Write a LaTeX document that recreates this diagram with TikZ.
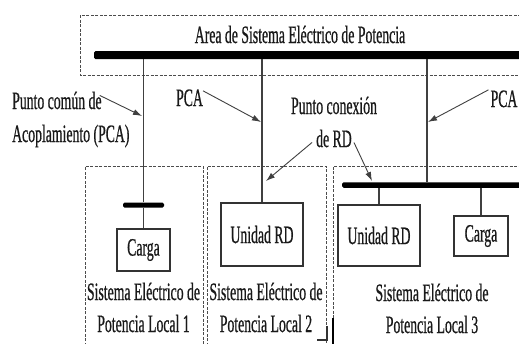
\documentclass[tikz,border=0pt]{standalone}
\usepackage{fontspec}
\setmainfont{Liberation Serif}[FakeStretch=0.55,FakeBold=0.6]
\usetikzlibrary{arrows.meta}
\begin{document}
\begin{tikzpicture}[x=1pt,y=-1pt,
  lbl/.style={inner sep=0pt,anchor=base,font=\fontsize{25}{33}\selectfont,text=black!90},
  busbar/.style={fill=black,draw=none,inner sep=0pt,rounded corners=1.5pt},
  unitbox/.style={draw=black!80,line width=1.1pt,inner sep=0pt,font=\fontsize{25}{33}\selectfont,text=black!90},
  feeder/.style={draw=black!75,line width=1.1pt},
  zone/.style={draw=black!70,line width=1pt,dash pattern=on 3pt off 1.5pt},
  pointer/.style={draw=black!75,line width=0.9pt,-{Latex[length=9pt,width=6pt]}}]
\useasboundingbox[fill=white] (0,0) rectangle (519,343);

% dashed zone boundaries
\draw[zone] (530,15) -- (80,15) -- (80,75) -- (530,75);
\draw[zone] (85,350) -- (85,166) -- (203,166) -- (203,350);
\draw[zone] (207,350) -- (207,166) -- (326,166) -- (326,350);
\draw[zone] (333,318) -- (333,166) -- (530,166);
\draw[black,line width=2.4pt] (333,318) -- (333,350);
\draw[black!80,line width=1.2pt] (317,340) -- (327,340) -- (327,326);

% main bus
\node[busbar,minimum width=440pt,minimum height=8pt] (mainbus) at (314,55) {};
\node[lbl] (area) at (300,43) {Area de Sistema Eléctrico de Potencia};

% local system 1
\node[busbar,minimum width=41pt,minimum height=5pt] (bus1) at (143.5,205) {};
\node[unitbox,minimum width=53pt,minimum height=42pt] (carga1) at (143.5,250) {Carga};
\draw[feeder] (mainbus.south -| bus1) -- (bus1.north);
\draw[feeder] (bus1.south) -- (carga1.north);
\node[lbl] (loc1a) at (143.5,300) {Sistema Eléctrico de};
\node[lbl] (loc1b) at (143.5,332) {Potencia Local 1};

% local system 2
\node[unitbox,minimum width=82pt,minimum height=63pt] (rd2) at (262,234.5) {Unidad RD};
\coordinate (tap2) at (262,59);
\draw[feeder] (tap2) -- (rd2.north);
\node[lbl] (loc2a) at (266,300) {Sistema Eléctrico de};
\node[lbl] (loc2b) at (266,332) {Potencia Local 2};

% local system 3
\node[busbar,minimum width=190pt,minimum height=5.5pt,anchor=west] (bus3) at (342,185) {};
\coordinate (tap3) at (427,59);
\draw[feeder] (tap3) -- (tap3 |- bus3.north);
\node[unitbox,minimum width=82pt,minimum height=61pt] (rd3) at (379,235.5) {Unidad RD};
\node[unitbox,minimum width=54pt,minimum height=40pt] (carga3) at (481,236) {Carga};
\draw[feeder] (rd3.north |- bus3.south) -- (rd3.north);
\draw[feeder] (carga3.north |- bus3.south) -- (carga3.north);
\node[lbl] (loc3a) at (432,301) {Sistema Eléctrico de};
\node[lbl] (loc3b) at (432,333) {Potencia Local 3};

% labels and pointers
\node[lbl,anchor=base west] (pcc1a) at (12,109) {Punto común de};
\node[lbl,anchor=base west] (pcc1b) at (12,142) {Acoplamiento (PCA)};
\node[lbl] (pca2) at (189.5,106) {PCA};
\node[lbl] (pca3) at (504,107) {PCA};
\node[lbl] (conA) at (334,114) {Punto conexión};
\node[lbl] (conB) at (334,147) {de RD};

\coordinate (hit1) at (142,116);
\coordinate (hit2) at (261,122);
\coordinate (hit3) at (266,181);
\coordinate (hit4) at (372,181);
\coordinate (hit5) at (428,122);
\draw[pointer] (pcc1a.east) ++(-2,-5) -- (hit1);
\draw[pointer] (pca2.east) ++(0,-7) -- (hit2);
\draw[pointer] (conB.west) ++(-4,4) -- (hit3);
\draw[pointer] (conB.east) ++(2,4) -- (hit4);
\draw[pointer] (pca3.west) ++(-2,-9) -- (hit5);
\end{tikzpicture}
\end{document}
